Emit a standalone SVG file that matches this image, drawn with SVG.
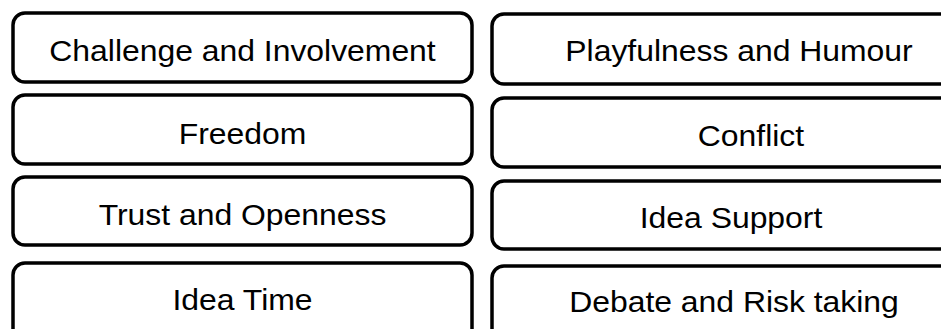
<svg xmlns="http://www.w3.org/2000/svg" width="941" height="329" viewBox="0 0 941 329">
<style>
.box{fill:#fff;stroke:#000;stroke-width:3.5}
.t{font-family:"Liberation Sans",Arial,sans-serif;font-size:29px;fill:#000;text-anchor:middle}
</style>
<rect width="941" height="329" fill="#fff"/>
<g id="connectors"/>
<g id="n1"><rect class="box" x="13" y="13" width="459" height="69" rx="12"/><text class="t" transform="translate(242.5,61) scale(1.1,1)">Challenge and Involvement</text></g>
<g id="n2"><rect class="box" x="13" y="95" width="459" height="69" rx="12"/><text class="t" transform="translate(242.5,144) scale(1.1,1)">Freedom</text></g>
<g id="n3"><rect class="box" x="13" y="177" width="459" height="68" rx="12"/><text class="t" transform="translate(242.5,225) scale(1.1,1)">Trust and Openness</text></g>
<g id="n4"><rect class="box" x="13" y="263" width="459" height="80" rx="12"/><text class="t" transform="translate(242.5,310) scale(1.1,1)">Idea Time</text></g>
<g id="n5"><rect class="box" x="492" y="14" width="494" height="70" rx="12"/><text class="t" transform="translate(739,61) scale(1.1,1)">Playfulness and Humour</text></g>
<g id="n6"><rect class="box" x="492" y="98" width="494" height="69" rx="12"/><text class="t" transform="translate(751,146) scale(1.1,1)">Conflict</text></g>
<g id="n7"><rect class="box" x="492" y="181" width="494" height="68" rx="12"/><text class="t" transform="translate(731,228) scale(1.1,1)">Idea Support</text></g>
<g id="n8"><rect class="box" x="492" y="266" width="494" height="80" rx="12"/><text class="t" transform="translate(734,312) scale(1.1,1)">Debate and Risk taking</text></g>
</svg>
